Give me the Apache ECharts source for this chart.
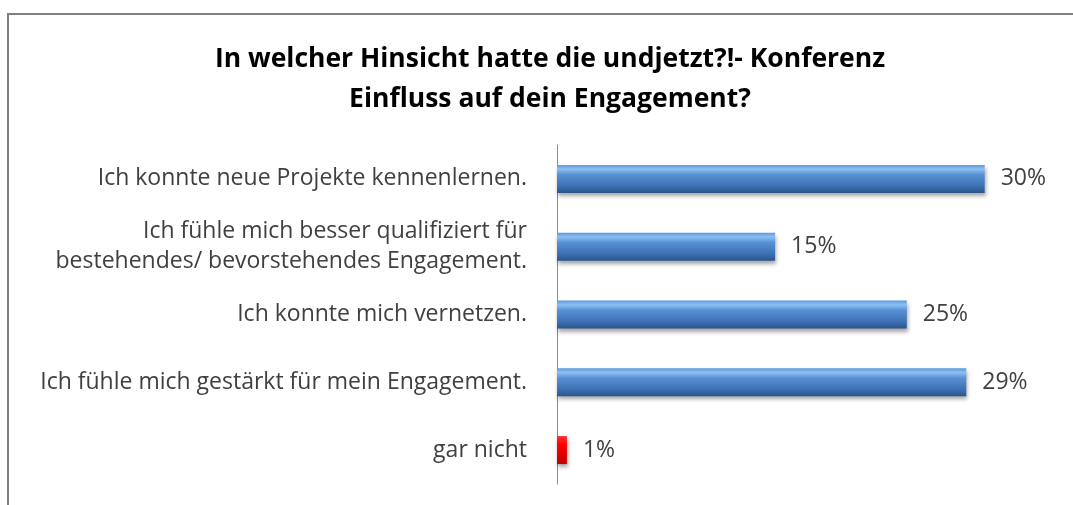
<!DOCTYPE html>
<html>
<head>
<meta charset="utf-8">
<script src="https://cdn.jsdelivr.net/npm/echarts@6/dist/echarts.min.js"></script>
<style>
  html, body { margin: 0; padding: 0; background: #fff; }
  #chart { width: 1073px; height: 505px; }
</style>
</head>
<body>
<div id="chart"></div>
<script>
var categories = [
    'Ich konnte neue Projekte kennenlernen.',
    'Ich fühle mich besser qualifiziert für\nbestehendes/ bevorstehendes Engagement.',
    'Ich konnte mich vernetzen.',
    'Ich fühle mich gestärkt für mein Engagement.',
    'gar nicht'
];
var values = [30.2, 15.4, 24.7, 28.9, 0.7];

var blueBar = new echarts.graphic.LinearGradient(0, 0, 0, 1, [
    {offset: 0, color: '#5c98dc'},
    {offset: 0.15, color: '#8cc0f2'},
    {offset: 0.35, color: '#5890d4'},
    {offset: 0.75, color: '#3d71b4'},
    {offset: 1, color: '#2b548a'}
]);
var redBar = new echarts.graphic.LinearGradient(0, 0, 0, 1, [
    {offset: 0, color: '#ff3030'},
    {offset: 0.3, color: '#ff0000'},
    {offset: 1, color: '#c00000'}
]);

var chart = echarts.init(document.getElementById('chart'));

var option = {
    animation: false,
    title: {
        text: 'In welcher Hinsicht hatte die undjetzt?!- Konferenz\nEinfluss auf dein Engagement?',
        left: 545,
        top: 34,
        textAlign: 'center',
        textStyle: {
            fontFamily: 'Open Sans',
            fontSize: 26.5,
            fontWeight: 'bold',
            color: '#000',
            lineHeight: 40
        }
    },
    graphic: [{
        type: 'rect',
        shape: {x: 8, y: 14, width: 2000, height: 2000},
        style: {fill: 'none', stroke: '#808080', lineWidth: 2},
        silent: true
    }],
    grid: {
        left: 557,
        top: 145,
        height: 339,
        width: 490,
        containLabel: false
    },
    xAxis: {
        type: 'value',
        min: 0,
        max: 34.6,
        show: false
    },
    yAxis: {
        type: 'category',
        inverse: true,
        data: categories,
        axisLine: {lineStyle: {color: '#8c8c8c', width: 1}},
        axisTick: {show: false},
        axisLabel: {
            margin: 30,
            fontFamily: 'Open Sans',
            fontSize: 23,
            color: '#404040',
            lineHeight: 30,
            align: 'right'
        }
    },
    series: [{
        type: 'bar',
        barWidth: 28,
        data: values.map(function (v, i) {
            return {
                value: v,
                itemStyle: {color: i === values.length - 1 ? redBar : blueBar}
            };
        }),
        itemStyle: {
            shadowColor: 'rgba(0,0,0,0.35)',
            shadowBlur: 4,
            shadowOffsetX: 1,
            shadowOffsetY: 3
        },
        label: {
            show: true,
            position: 'right',
            distance: 16,
            fontFamily: 'Open Sans',
            fontSize: 23,
            color: '#404040',
            formatter: function (p) { return Math.round(p.value) + '%'; }
        }
    }]
};

chart.setOption(option);
</script>
</body>
</html>
